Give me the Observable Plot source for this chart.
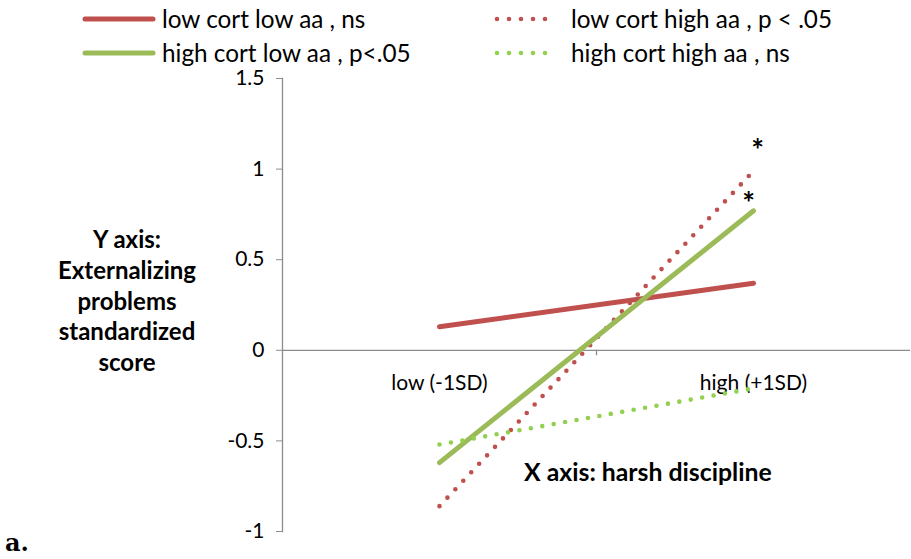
<!DOCTYPE html>
<html>
<head>
<meta charset="utf-8">
<script src="https://cdn.jsdelivr.net/npm/d3@7"></script>
<script src="https://cdn.jsdelivr.net/npm/@observablehq/plot@0.6"></script>
<style>
  body { margin: 0; background: #fff; }
  #wrap { position: relative; width: 911px; height: 559px; font-family: Lato, "Open Sans", sans-serif; color: #000; }
  #wrap svg { position: absolute; left: 0; top: 0; }
  .ann { position: absolute; white-space: nowrap; }
</style>
</head>
<body>
<div id="wrap"></div>
<script>
// ---- data ----
const categories = ["low (-1SD)", "high (+1SD)"];
const seriesNames = ["low cort low aa , ns", "low cort high aa , p < .05", "high cort low aa , p<.05", "high cort high aa , ns"];
const lowValues = [0.13, -0.86, -0.62, -0.52];
const highValues = [0.37, 0.99, 0.77, -0.21];
const significant = [false, true, true, false];
const yTicks = [-1, -0.5, 0, 0.5, 1, 1.5];

// ---- styles ----
const colors = ["#C0504D", "#C0504D", "#9BBB59", "#92D050"];
const dotted = [false, true, false, true];

const W = 911, H = 559, mt = 78, mb = 28, ml = 282, mr = 1;
const step = (W - ml - mr) / 2;

const rows = [];
seriesNames.forEach((s, i) => {
  rows.push({series: s, cat: categories[0], value: lowValues[i], i});
  rows.push({series: s, cat: categories[1], value: highValues[i], i});
});

const lineMarks = seriesNames.map((s, i) => Plot.line(rows.filter(d => d.i === i), {
  x: "cat", y: "value",
  stroke: colors[i],
  strokeWidth: dotted[i] ? 4.6 : 5,
  strokeLinecap: "round",
  strokeDasharray: dotted[i] ? "0 11.6" : null
}));

const sigHigh = rows.filter(d => d.cat === categories[1] && significant[d.i]);

const plot = Plot.plot({
  width: W, height: H,
  marginTop: mt, marginBottom: mb, marginLeft: ml, marginRight: mr,
  style: {fontFamily: "Lato, 'Open Sans', sans-serif", fontSize: "21px", color: "#000", background: "transparent"},
  x: {type: "point", domain: categories, padding: 0.5, axis: null},
  y: {domain: [-1, 1.5], axis: null},
  marks: [
    Plot.frame({anchor: "left", stroke: "#8c8c8c", strokeWidth: 1.3}),
    Plot.axisY({ticks: yTicks, label: null, tickSize: 6, tickPadding: 12, tickFormat: d => String(d), stroke: "#8c8c8c", fill: "#000", fontSize: 21}),
    Plot.ruleY([0], {stroke: "#8c8c8c", strokeWidth: 1.3}),
    Plot.ruleX([categories[1]], {y1: 0, y2: -0.03, dx: -step / 2, stroke: "#8c8c8c", strokeWidth: 1.3}),
    Plot.text(categories, {x: d => d, y: 0, dy: 33, fontSize: 21, fill: "#000"}),
    ...lineMarks,
    Plot.text(sigHigh.filter(d => d.i === 1), {x: "cat", y: "value", text: () => "*", dx: 4, dy: -20, fontSize: 30, fontWeight: "bold", fill: "#000"}),
    Plot.text(sigHigh.filter(d => d.i === 2), {x: "cat", y: "value", text: () => "*", dx: -5, dy: -6, fontSize: 30, fontWeight: "bold", fill: "#000"})
  ]
});
const wrap = document.getElementById("wrap");
wrap.appendChild(plot);

// legend (drawn with d3)
const legend = d3.create("svg").attr("width", W).attr("height", 68);
const legX = [83, 495];
const legY = [19, 53];
seriesNames.forEach((s, i) => {
  const col = i % 2, row = Math.floor(i / 2);
  const x0 = legX[col], y0 = legY[row];
  const g = legend.append("g");
  g.append("line")
    .attr("x1", x0 + 2).attr("x2", dotted[i] ? x0 + 62 : x0 + 70)
    .attr("y1", y0).attr("y2", y0)
    .attr("stroke", colors[i])
    .attr("stroke-width", dotted[i] ? 4.6 : 5)
    .attr("stroke-linecap", "round")
    .attr("stroke-dasharray", dotted[i] ? "0 12" : null);
  g.append("text")
    .attr("x", dotted[i] ? x0 + 76 : x0 + 79).attr("y", y0)
    .attr("dy", "0.35em")
    .attr("font-family", "Lato, 'Open Sans', sans-serif")
    .attr("font-size", 24.3)
    .attr("fill", "#000")
    .text(s);
});
wrap.appendChild(legend.node());

// annotations
function ann(text, css) {
  const d = document.createElement("div");
  d.className = "ann";
  d.innerHTML = text;
  Object.assign(d.style, css);
  wrap.appendChild(d);
}
ann("Y axis:<br>Externalizing<br>problems<br>standardized<br>score", {left: "27px", top: "224px", width: "200px", textAlign: "center", fontWeight: "bold", fontSize: "24px", lineHeight: "30.8px"});
ann("X axis: harsh discipline", {left: "524px", top: "457px", fontWeight: "bold", fontSize: "24.8px"});
ann("a.", {left: "5px", top: "528px", fontWeight: "bold", fontSize: "24px", fontFamily: "'DejaVu Serif', serif"});
</script>
</body>
</html>
